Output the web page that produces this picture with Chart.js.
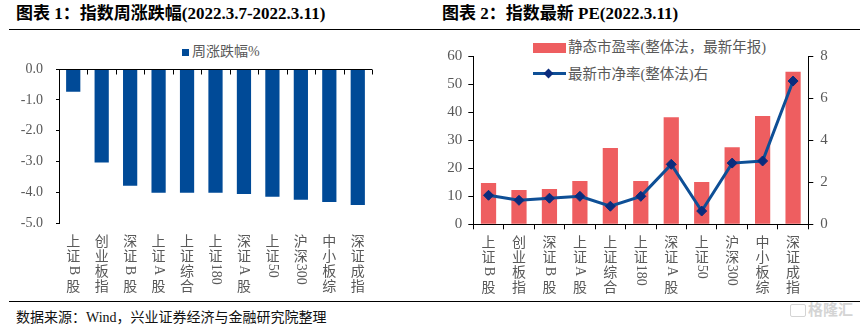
<!DOCTYPE html>
<html>
<head>
<meta charset="utf-8">
<script src="https://cdn.jsdelivr.net/npm/chart.js@4/dist/chart.umd.min.js"></script>
<style>
  html, body { margin: 0; padding: 0; background: #fff; }
  #root { position: relative; width: 865px; height: 329px; overflow: hidden; background: #fff; }
  .abs { position: absolute; }
  .title { font-family: "Liberation Serif", "Noto Sans CJK SC", serif; font-weight: bold; font-size: 17px; color: #000; white-space: nowrap; line-height: 20px; }
  .cjk { font-family: "Liberation Serif", "Noto Sans CJK SC", serif; }
  .legtext { font-family: "Liberation Serif", "Noto Sans CJK SC", serif; font-size: 14.5px; color: #595959; white-space: nowrap; line-height: 18px; }
  .rule { background: #000; height: 1.5px; }
</style>
</head>
<body>
<div id="root">
  <div class="abs title" style="left:16px; top:4px;">图表 1：指数周涨跌幅(2022.3.7-2022.3.11)</div>
  <div class="abs title" style="left:442px; top:4px;">图表 2：指数最新 PE(2022.3.11)</div>
  <div class="abs rule" style="left:9px; top:28.5px; width:851px;"></div>

  <!-- legend chart 1 -->
  <div class="abs" style="left:182px; top:48.5px; width:7px; height:7px; background:#004A97;"></div>
  <div class="abs legtext" style="left:192px; top:43px; font-size:14px;">周涨跌幅%</div>

  <!-- legend chart 2 -->
  <div class="abs" style="left:533px; top:43px; width:33px; height:9.5px; background:#EE5E60;"></div>
  <div class="abs legtext" style="left:568px; top:38px;">静态市盈率(整体法，最新年报)</div>
  <div class="abs" style="left:533px; top:72px; width:33px; height:3px; background:#0E4F96;"></div>
  <div class="abs" style="left:545px; top:69.5px; width:7px; height:7px; background:#0B2C7D; transform:rotate(45deg);"></div>
  <div class="abs legtext" style="left:568px; top:64.5px;">最新市净率(整体法)右</div>

  <div class="abs" style="left:0px; top:40px; width:430px; height:260px;"><canvas id="c1"></canvas></div>
  <div class="abs" style="left:430px; top:40px; width:435px; height:260px;"><canvas id="c2"></canvas></div>

  <div class="abs rule" style="left:9px; top:300.5px; width:851px;"></div>
  <div class="abs cjk" style="left:16px; top:309px; font-size:14px; color:#111; white-space:nowrap; line-height:18px;">数据来源：Wind，兴业证券经济与金融研究院整理</div>
  <div class="abs" style="left:790px; top:304px; width:14px; height:11px; border:1.5px solid #d4d4d4; border-radius:2px;"></div>
  <div class="abs cjk" style="left:808px; top:301px; font-size:15px; color:#d4d4d4; white-space:nowrap; line-height:18px; font-weight:bold;">格隆汇</div>
</div>

<script>
// ---------- Data ----------
const weekCategories = ['上证B股', '创业板指', '深证B股', '上证A股', '上证综合', '上证180', '深证A股', '上证50', '沪深300', '中小板综', '深证成指'];
const weekChange = [-0.74, -3.03, -3.78, -4.01, -4.01, -4.01, -4.05, -4.14, -4.24, -4.31, -4.41];
const weekTicks = [0, -1, -2, -3, -4, -5];

const peCategories = ['上证B股', '创业板指', '深证B股', '上证A股', '上证综合', '上证180', '深证A股', '上证50', '沪深300', '中小板综', '深证成指'];
const peValues = [14.7, 12.2, 12.6, 15.4, 27.2, 15.4, 38.2, 15.1, 27.5, 38.6, 54.4];
const pbValues = [1.38, 1.14, 1.24, 1.33, 0.86, 1.33, 2.85, 0.63, 2.91, 3.01, 6.81];
const peTicks = [0, 10, 20, 30, 40, 50, 60];
const pbTicks = [0, 2, 4, 6, 8];
</script>
<script>
const GREY = '#595959';
const SERIF = '"Liberation Serif", "Times New Roman", serif';

// vertical category labels: CJK upright, Latin/digit runs rotated
const vLabels = {
  id: 'vlabels',
  afterDraw(chart, args, opts) {
    const ctx = chart.ctx;
    const xs = chart.scales.x;
    const lh = opts.lineHeight;
    ctx.save();
    ctx.fillStyle = opts.color;
    ctx.textAlign = 'center';
    ctx.textBaseline = 'middle';
    chart.data.labels.forEach((lab, i) => {
      const cx = xs.getPixelForValue(i);
      let y = chart.chartArea.bottom + opts.offset;
      const runs = lab.match(/[A-Za-z0-9]+|./g) || [];
      runs.forEach(r => {
        if (/^[A-Za-z0-9]+$/.test(r)) {
          ctx.font = opts.latinFont;
          const w = ctx.measureText(r).width;
          const slot = Math.max(w + 2, lh);
          ctx.save();
          ctx.translate(cx, y + slot / 2);
          ctx.rotate(Math.PI / 2);
          ctx.fillText(r, 0, 0);
          ctx.restore();
          y += slot;
        } else {
          ctx.font = opts.cjkFont;
          ctx.fillText(r, cx, y + lh / 2);
          y += lh;
        }
      });
    });
    ctx.restore();
  }
};

// zero line with downward tick marks (chart 1, axis at top)
const zeroAxis = {
  id: 'zeroAxis',
  afterDatasetsDraw(chart) {
    const { ctx, chartArea } = chart;
    const y0 = Math.round(chart.scales.y.getPixelForValue(0)) + 0.5;
    const n = chart.data.labels.length;
    ctx.save();
    ctx.strokeStyle = '#000';
    ctx.lineWidth = 1;
    ctx.beginPath();
    ctx.moveTo(chartArea.left, y0);
    ctx.lineTo(chartArea.right, y0);
    for (let i = 0; i <= n; i++) {
      const x = Math.round(chartArea.left + (chartArea.right - chartArea.left) * i / n) + 0.5;
      ctx.moveTo(x, y0);
      ctx.lineTo(x, y0 + 5);
    }
    ctx.stroke();
    ctx.restore();
  }
};

const labelOpts = {
  offset: 9.5,
  lineHeight: 15,
  color: GREY,
  cjkFont: '14px "Noto Sans CJK SC", sans-serif',
  latinFont: '14px ' + SERIF
};

// ---------- Chart 1 ----------
new Chart(document.getElementById('c1'), {
  type: 'bar',
  data: {
    labels: weekCategories,
    datasets: [{
      label: '周涨跌幅%',
      data: weekChange,
      backgroundColor: '#004A97',
      barPercentage: 0.5,
      categoryPercentage: 1.0
    }]
  },
  plugins: [vLabels, zeroAxis],
  options: {
    responsive: true,
    maintainAspectRatio: false,
    animation: false,
    layout: { padding: { top: 29, right: 58, left: 0, bottom: 0 } },
    plugins: {
      legend: { display: false },
      tooltip: { enabled: false },
      vlabels: labelOpts
    },
    scales: {
      x: {
        grid: { display: false },
        border: { display: false },
        ticks: { display: false },
        afterFit(s) { s.height = 76.7; }
      },
      y: {
        min: -5, max: 0,
        afterBuildTicks(s) { s.ticks = weekTicks.map(v => ({ value: v })); },
        grid: { drawOnChartArea: false, drawTicks: true, tickLength: 3, color: '#000' },
        border: { display: true, color: '#000', width: 1 },
        ticks: {
          color: GREY, padding: 13,
          font: { family: SERIF, size: 14 },
          callback: v => Number(v).toFixed(1)
        },
        afterFit(s) { s.width = 59; }
      }
    }
  }
});

// ---------- Chart 2 ----------
new Chart(document.getElementById('c2'), {
  type: 'bar',
  data: {
    labels: peCategories,
    datasets: [
      {
        type: 'line',
        label: '最新市净率(整体法)右',
        data: pbValues,
        yAxisID: 'y1',
        borderColor: '#0E4F96',
        borderWidth: 3,
        tension: 0,
        pointStyle: 'rectRot',
        pointRadius: 5,
        pointBackgroundColor: '#0B2C7D',
        pointBorderColor: '#0B2C7D',
        pointBorderWidth: 1,
        order: 0
      },
      {
        type: 'bar',
        label: '静态市盈率(整体法，最新年报)',
        data: peValues,
        yAxisID: 'y',
        backgroundColor: '#EE5E60',
        barPercentage: 0.5,
        categoryPercentage: 1.0,
        order: 1
      }
    ]
  },
  plugins: [vLabels],
  options: {
    responsive: true,
    maintainAspectRatio: false,
    animation: false,
    layout: { padding: { top: 16, right: 0, left: 0, bottom: 0 } },
    plugins: {
      legend: { display: false },
      tooltip: { enabled: false },
      vlabels: labelOpts
    },
    scales: {
      x: {
        offset: true,
        grid: { display: true, offset: true, drawOnChartArea: false, drawTicks: true, tickLength: 5, color: '#000' },
        border: { display: true, color: '#000', width: 1 },
        ticks: { display: false },
        afterFit(s) { s.height = 75.7; }
      },
      y: {
        position: 'left',
        min: 0, max: 60,
        afterBuildTicks(s) { s.ticks = peTicks.map(v => ({ value: v })); },
        grid: { drawOnChartArea: false, drawTicks: true, tickLength: 5, color: '#000' },
        border: { display: true, color: '#000', width: 1 },
        ticks: { color: GREY, padding: 6, font: { family: SERIF, size: 15 } },
        afterFit(s) { s.width = 43.3; }
      },
      y1: {
        position: 'right',
        min: 0, max: 8,
        afterBuildTicks(s) { s.ticks = pbTicks.map(v => ({ value: v })); },
        grid: { drawOnChartArea: false, drawTicks: true, tickLength: 5, color: '#000' },
        border: { display: true, color: '#000', width: 1 },
        ticks: { color: GREY, padding: 7, font: { family: SERIF, size: 15 } },
        afterFit(s) { s.width = 56.7; }
      }
    }
  }
});
</script>
</body>
</html>
